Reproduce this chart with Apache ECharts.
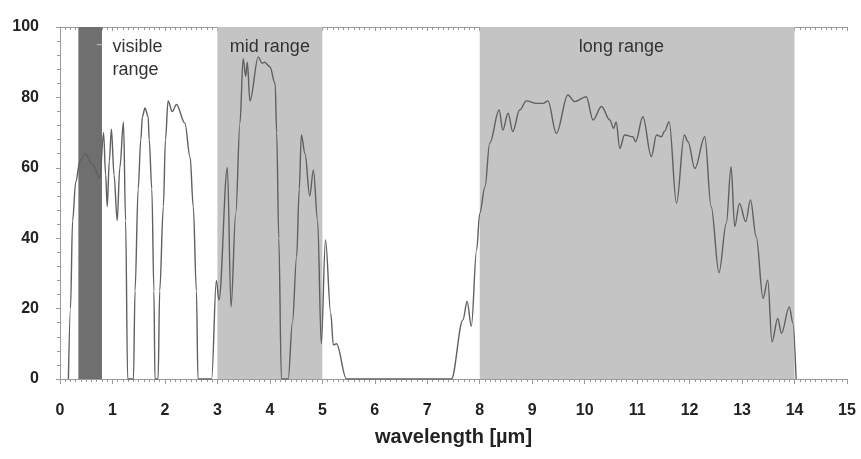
<!DOCTYPE html>
<html>
<head>
<meta charset="utf-8">
<script src="https://cdn.jsdelivr.net/npm/echarts@6/dist/echarts.min.js"></script>
<style>
  html, body { margin: 0; padding: 0; background: #ffffff; }
  #chart { width: 861px; height: 459px; }
</style>
</head>
<body>
<div id="chart"></div>
<script>
// ---- data ----
const wavelength = [
  0.16, 0.20, 0.24, 0.30, 0.38, 0.48, 0.62, 0.76, 0.83, 0.87, 0.90, 0.94, 0.98, 1.03, 1.09, 1.14, 1.21, 1.25, 1.29,
  1.40, 1.43, 1.49, 1.54, 1.57, 1.62, 1.68, 1.70, 1.75, 1.79, 1.81,
  1.87, 1.90, 1.97, 2.01, 2.06, 2.14, 2.22, 2.38, 2.48, 2.54, 2.60, 2.63,
  2.89, 2.98, 3.03, 3.19, 3.26, 3.35, 3.43, 3.49, 3.54, 3.57, 3.62, 3.78, 3.85, 3.90, 4.00, 4.10, 4.13, 4.17, 4.22,
  4.35, 4.43, 4.51, 4.56, 4.60, 4.67, 4.76, 4.83, 4.91, 4.98, 5.06, 5.16, 5.21, 5.27, 5.46,
  7.46, 7.68, 7.76, 7.84, 7.94, 8.00, 8.10, 8.19, 8.37, 8.44, 8.54, 8.63, 8.76, 8.89, 9.08, 9.21, 9.30, 9.46, 9.68,
  9.81, 10.03, 10.16, 10.32, 10.48, 10.55, 10.60, 10.67, 10.76, 10.92, 10.97, 11.11, 11.27, 11.37, 11.46, 11.52,
  11.61, 11.75, 11.90, 11.97, 12.10, 12.29, 12.41, 12.56, 12.70, 12.79, 12.86, 12.95, 13.07, 13.16, 13.27, 13.40,
  13.49, 13.57, 13.68, 13.75, 13.90, 13.97, 14.03
];
const transmission = [
  0, 20, 45, 56, 62, 64, 61, 57, 70, 58, 49, 62, 71, 58, 45, 60, 73, 45, 0,
  0, 25, 54, 68, 74.5, 77, 74.5, 68, 54, 25, 0,
  0, 25, 49, 68, 79, 76, 78, 72.7, 63, 49, 25, 0,
  0, 28, 22.4, 60, 20.5, 47, 72.7, 91, 86, 90, 79, 91.5, 89.7, 90, 88.7, 84, 70, 40, 0,
  0, 16, 34.7, 54, 69.3, 64, 52, 59.4, 45, 10, 39.5, 18.7, 9.7, 10, 0,
  0, 16.8, 22, 15, 36.6, 47, 54.6, 67, 76.4, 70.7, 75.5, 70.3, 76.4, 79, 78.3, 78.3, 79, 69.8, 80.7,
  78.8, 80.2, 73.6, 77.4, 73.6, 71.2, 73, 65.5, 69.3, 68.8, 67.4, 74.5, 63.2, 69.3, 68.8, 70.3,
  73.1, 49.9, 69.3, 67.4, 59.8, 68.8, 49, 30.2, 44.2, 60.3, 43.3, 49.9, 44.7, 50.9, 40.4, 22.9,
  28.1, 10.6, 17.2, 13, 20.5, 15.9, 0
];
const xTicks = ['0','1','2','3','4','5','6','7','8','9','10','11','12','13','14','15'];
const yTicks = ['0','20','40','60','80','100'];
const bandNames = ['visible range', 'mid range', 'long range'];
const bandStart = [0.35, 3, 8];
const bandEnd = [0.8, 5, 14];
const axisTitle = 'wavelength [µm]';

// ---- styles ----
const bandColors = ['#6f6f6f', '#c4c4c4', '#c4c4c4'];
const labelAnchorX = [1.0, 4.0, 10.7];
const labelAlign = ['left', 'center', 'center'];
const labelText = ['visible\nrange', 'mid range', 'long range'];

const seriesData = wavelength.map((w, i) => [w, transmission[i]]);
const markAreaData = bandStart.map((s, i) => [
  { name: bandNames[i], xAxis: s, itemStyle: { color: bandColors[i], opacity: 1 } },
  { xAxis: bandEnd[i] }
]);

const axisGray = '#9a9a9a';
const chart = echarts.init(document.getElementById('chart'), null, { renderer: 'canvas' });

const xAxisCommon = {
  type: 'value', min: 0, max: 15, interval: 1,
  axisLine: { show: true, lineStyle: { color: axisGray, width: 1 } },
  axisTick: { show: true, length: 5, lineStyle: { color: axisGray } },
  minorTick: { show: true, splitNumber: 10, length: 3, lineStyle: { color: axisGray } },
  splitLine: { show: false }
};

chart.setOption({
  animation: false,
  backgroundColor: '#ffffff',
  grid: { left: 60, right: 14, top: 27, bottom: 80 },
  xAxis: [
    Object.assign({}, xAxisCommon, {
      position: 'bottom',
      axisLabel: {
        margin: 24, color: '#222', fontSize: 16, fontWeight: 'bold',
        fontFamily: 'Liberation Sans, Arial, sans-serif',
        formatter: v => xTicks[Math.round(v)] !== undefined ? xTicks[Math.round(v)] : ''
      },
      name: axisTitle, nameLocation: 'middle', nameGap: 48,
      nameTextStyle: { color: '#222', fontSize: 20, fontWeight: 'bold', fontFamily: 'Liberation Sans, Arial, sans-serif' }
    }),
    Object.assign({}, xAxisCommon, {
      position: 'top',
      axisTick: { show: true, inside: true, length: 4, lineStyle: { color: axisGray } },
      minorTick: { show: true, splitNumber: 10, length: 3, lineStyle: { color: axisGray } },
      axisLabel: { show: false }
    })
  ],
  yAxis: {
    type: 'value', min: 0, max: 100, interval: 20,
    axisLine: { show: true, lineStyle: { color: axisGray, width: 1 } },
    axisTick: { show: true, length: 4, lineStyle: { color: axisGray } },
    minorTick: { show: true, splitNumber: 5, length: 3, lineStyle: { color: axisGray } },
    splitLine: { show: false },
    axisLabel: {
      margin: 21, color: '#222', fontSize: 16, fontWeight: 'bold',
      fontFamily: 'Liberation Sans, Arial, sans-serif',
      formatter: v => yTicks[Math.round(v / 20)]
    }
  },
  series: [{
    type: 'line',
    xAxisIndex: 0,
    data: seriesData,
    showSymbol: false,
    smooth: 0.35,
    smoothMonotone: 'x',
    lineStyle: { color: '#606060', width: 1.4 },
    markArea: { silent: true, label: { show: false }, data: markAreaData },
    z: 5
  }]
});

// annotation texts positioned through the chart's own scales
const topPx = chart.convertToPixel({ gridIndex: 0 }, [0, 100])[1];
const graphics = labelText.map((t, i) => {
  const p = chart.convertToPixel({ gridIndex: 0 }, [labelAnchorX[i], 100]);
  return {
    type: 'text', z: 10,
    x: p[0], y: topPx + 9,
    style: {
      text: t, fill: '#333', fontSize: 18, lineHeight: 23,
      fontFamily: 'Liberation Sans, Arial, sans-serif',
      align: labelAlign[i], verticalAlign: 'top'
    }
  };
});
const d0 = chart.convertToPixel({ gridIndex: 0 }, [0.7, 95]);
const d1 = chart.convertToPixel({ gridIndex: 0 }, [0.8, 95]);
graphics.push({
  type: 'line', z: 10,
  shape: { x1: d0[0], y1: d0[1], x2: d1[0], y2: d1[1] },
  style: { stroke: '#aaaaaa', lineWidth: 1.5 }
});
chart.setOption({ graphic: graphics });
</script>
</body>
</html>
